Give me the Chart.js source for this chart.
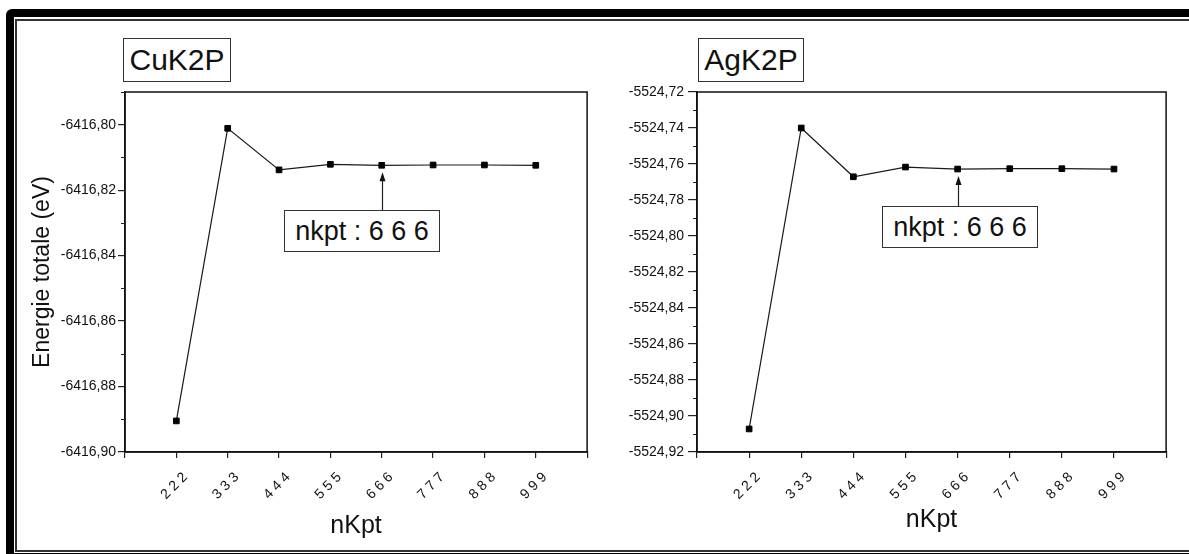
<!DOCTYPE html>
<html lang="fr">
<head>
<meta charset="utf-8">
<title>Convergence nKpt</title>
<script src="https://cdn.jsdelivr.net/npm/chart.js@4.4.1/dist/chart.umd.min.js"></script>
<style>
  html, body { margin: 0; padding: 0; background: #fff; overflow: hidden; }
  body { width: 1189px; height: 554px; position: relative; font-family: 'Liberation Sans', Arial, sans-serif; color: #111; }
  .cadre-ext { position: absolute; left: 6px; top: 9px; width: 1230px; height: 552px; border: 8px solid #000; border-radius: 6px; box-sizing: border-box; }
  .cadre-int { position: absolute; left: 15px; top: 19px; width: 1210px; height: 533px; border: 2px solid #333; box-sizing: border-box; }
  canvas { position: absolute; top: 0; }
  #graphCu { left: 0; }
  #graphAg { left: 590px; }
  .boite { position: absolute; border: 1.5px solid #333; background: #fff; box-sizing: border-box;
           display: flex; align-items: center; justify-content: center; white-space: nowrap; z-index: 2; }
  .titre { top: 38px; height: 44px; font-size: 30px; }
  .note { width: 156px; height: 42px; font-size: 27px; }
</style>
</head>
<body>
<div class="cadre-ext"></div>
<div class="cadre-int"></div>

<canvas id="graphCu" width="610" height="554"></canvas>
<canvas id="graphAg" width="599" height="554"></canvas>

<div class="boite titre" style="left:123px; width:108px;">CuK2P</div>
<div class="boite titre" style="left:698px; width:106px;">AgK2P</div>
<div class="boite note" style="left:284px; top:210px;">nkpt : 6 6 6</div>
<div class="boite note" style="left:882px; top:206px;">nkpt : 6 6 6</div>

<script>
// Données
const nKpt = ['2 2 2', '3 3 3', '4 4 4', '5 5 5', '6 6 6', '7 7 7', '8 8 8', '9 9 9'];
const energieCu = [-6416.8905, -6416.8011, -6416.8138, -6416.8121, -6416.8124, -6416.8123, -6416.8123, -6416.8124];
const energieAg = [-5524.9072, -5524.7400, -5524.7671, -5524.7617, -5524.7628, -5524.7626, -5524.7626, -5524.7628];
const graduationsCu = [-6416.90, -6416.88, -6416.86, -6416.84, -6416.82, -6416.80];
const graduationsAg = [-5524.92, -5524.90, -5524.88, -5524.86, -5524.84, -5524.82, -5524.80, -5524.78, -5524.76, -5524.74, -5524.72];
const bornesCu = [-6416.90, -6416.79];
const bornesAg = [-5524.92, -5524.72];
const pasMineur = 0.01;
const indiceFleche = 4; // point "6 6 6"

const police = "'Liberation Sans', Arial, sans-serif";
const encre = '#111';

// Cadre complet autour de la zone de tracé
const cadre = {
  id: 'cadre',
  afterDraw(chart) {
    const { ctx, chartArea: a } = chart;
    ctx.save();
    ctx.strokeStyle = encre;
    ctx.lineWidth = 1.5;
    ctx.strokeRect(a.left, a.top, a.right - a.left, a.bottom - a.top);
    ctx.restore();
  }
};

// Petites graduations sur l'axe y
const mineures = {
  id: 'mineures',
  afterDraw(chart) {
    const { ctx, chartArea: a } = chart;
    const y = chart.scales.y;
    const n = Math.round((y.max - y.min) / pasMineur);
    ctx.save();
    ctx.strokeStyle = '#222';
    ctx.lineWidth = 1.2;
    ctx.beginPath();
    for (let i = 1; i <= n; i += 2) {
      const py = Math.round(y.getPixelForValue(y.min + i * pasMineur)) + 0.5;
      ctx.moveTo(a.left - 4, py);
      ctx.lineTo(a.left, py);
    }
    ctx.stroke();
    ctx.restore();
  }
};

// Flèche vers le point choisi
const fleche = {
  id: 'fleche',
  afterDraw(chart, args, opts) {
    const pt = chart.getDatasetMeta(0).data[opts.indice];
    if (!pt) return;
    const { ctx } = chart;
    const x = Math.round(pt.x) + 0.5;
    const pointe = pt.y + 7;
    ctx.save();
    ctx.strokeStyle = '#222';
    ctx.fillStyle = '#111';
    ctx.lineWidth = 1.2;
    ctx.beginPath();
    ctx.moveTo(x, opts.queue);
    ctx.lineTo(x, pointe + 6);
    ctx.stroke();
    ctx.beginPath();
    ctx.moveTo(x, pointe);
    ctx.lineTo(x - 3, pointe + 9);
    ctx.lineTo(x + 3, pointe + 9);
    ctx.closePath();
    ctx.fill();
    ctx.restore();
  }
};

function creerGraphique(id, energies, graduations, bornes, reglages) {
  return new Chart(document.getElementById(id), {
    type: 'line',
    data: {
      datasets: [{
        data: energies.map((e, i) => ({ x: i + 1, y: e })),
        borderColor: '#1a1a1a',
        borderWidth: 1.2,
        pointStyle: 'rect',
        pointRadius: 4,
        pointBackgroundColor: '#000',
        pointBorderColor: '#000',
        pointBorderWidth: 1,
        tension: 0
      }]
    },
    options: {
      responsive: false,
      animation: false,
      events: [],
      layout: { padding: { left: 0, right: reglages.droite, top: 92, bottom: 0 } },
      plugins: {
        legend: { display: false },
        tooltip: { enabled: false },
        fleche: { indice: indiceFleche, queue: reglages.queue }
      },
      scales: {
        x: {
          type: 'linear',
          min: 0,
          max: nKpt.length + 1,
          afterBuildTicks: s => { s.ticks = Array.from({ length: nKpt.length + 2 }, (_, i) => ({ value: i })); },
          afterFit: s => { s.height = 102; },
          grid: { drawOnChartArea: false, drawTicks: true, tickLength: 6, color: '#222', lineWidth: 1.2 },
          border: { color: encre, width: 1.5 },
          ticks: {
            autoSkip: false, minRotation: 45, maxRotation: 45,
            padding: 11, labelOffset: 9, color: encre,
            font: { family: police, size: 14 },
            callback: v => nKpt[v - 1] || ''
          },
          title: {
            display: true, text: 'nKpt', color: encre,
            font: { family: police, size: 25 },
            padding: { top: 0, bottom: reglages.titreX }
          }
        },
        y: {
          min: bornes[0],
          max: bornes[1],
          afterBuildTicks: s => { s.ticks = graduations.map(v => ({ value: v })); },
          afterFit: s => { s.width = reglages.largeurY; },
          grid: { drawOnChartArea: false, drawTicks: true, tickLength: reglages.tickY, color: '#222', lineWidth: 1.2 },
          border: { color: encre, width: 1.5 },
          ticks: {
            autoSkip: false, padding: reglages.padY, color: encre,
            font: { family: police, size: 14 },
            callback: v => v.toFixed(2).replace('.', ',')
          },
          title: {
            display: !!reglages.titreY, text: reglages.titreY || '', color: encre,
            font: { family: police, size: 23 },
            padding: { top: 29, bottom: 0 }
          }
        }
      }
    },
    plugins: [cadre, mineures, fleche]
  });
}

// Graphique CuK2P
creerGraphique('graphCu', energieCu, graduationsCu, bornesCu, {
  droite: 12, largeurY: 125, tickY: 7, padY: 2, titreX: 13, queue: 210,
  titreY: 'Energie totale (eV)'
});

// Graphique AgK2P
creerGraphique('graphAg', energieAg, graduationsAg, bornesAg, {
  droite: 19, largeurY: 107, tickY: 9, padY: 4, titreX: 19, queue: 206
});
</script>
</body>
</html>
